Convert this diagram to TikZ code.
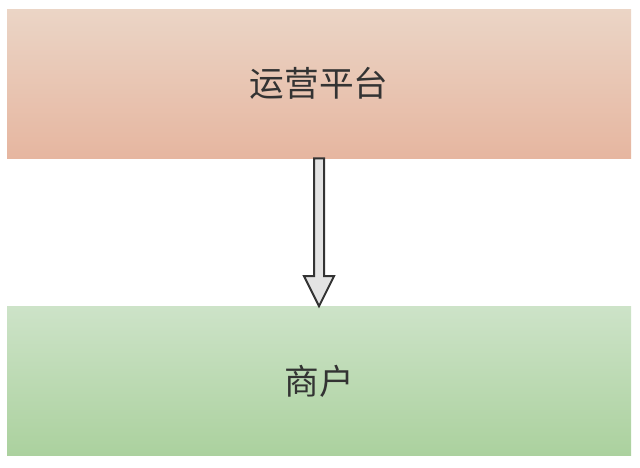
\documentclass[tikz,border=0pt]{standalone}
\usepackage{fontspec}
\newfontfamily\cjk{Noto Sans CJK SC}
\usetikzlibrary{calc}
\definecolor{pfTop}{HTML}{EBD5C6}
\definecolor{pfBot}{HTML}{E6B6A0}
\definecolor{shTop}{HTML}{CDE3C8}
\definecolor{shBot}{HTML}{ABD19E}
\definecolor{txt}{HTML}{333333}
\definecolor{arwfill}{HTML}{E3E3E3}
\begin{document}
\begin{tikzpicture}[x=0.75pt,y=-0.75pt,
  box/.style={rectangle, inner sep=0pt, minimum width=468pt, minimum height=111.75pt,
    font=\cjk\fontsize{26}{30}\selectfont, text=txt}]
\useasboundingbox (0,0) rectangle (640,468);

\node[box, top color=pfTop, bottom color=pfBot] (pf) at (319, 83.5) {运营平台};
\node[box, top color=shTop, bottom color=shBot] (sh) at (319, 381) {商户};

% block arrow from pf down to sh
\draw[line width=1.5pt, draw=txt, fill=arwfill, line join=miter]
  ($(pf.south)+(-5,0)$) -- ($(pf.south)+(5,0)$) -- ($(sh.north)+(5,-30)$)
  -- ($(sh.north)+(15,-30)$) -- (sh.north) -- ($(sh.north)+(-15,-30)$)
  -- ($(sh.north)+(-5,-30)$) -- cycle;
\end{tikzpicture}
\end{document}
